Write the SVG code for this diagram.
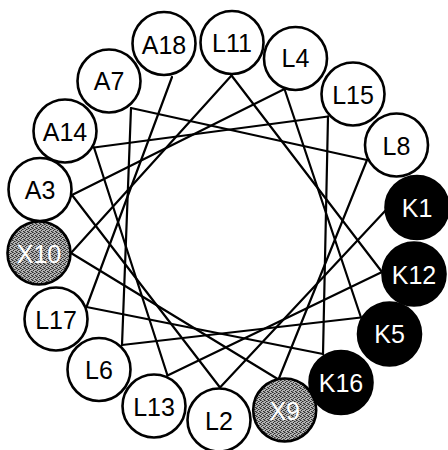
<svg xmlns="http://www.w3.org/2000/svg" width="448" height="450" viewBox="0 0 448 450">
  <style>
    .res circle { stroke: #000; stroke-width: 2.6; }
    .hp circle { fill: #fff; }
    .hp text { fill: #000; }
    .pos circle { fill: #000; }
    .pos text { fill: #fff; }
    .unk circle { fill: url(#stipple); }
    .unk text { fill: #fff; }
    .res text { font-family: "Liberation Sans", Arial, sans-serif; font-size: 25px; text-anchor: middle; dominant-baseline: central; }
    #connectors line { stroke: #000; stroke-width: 2.2; stroke-linecap: round; }
  </style>
  <defs>
    <!-- halftone grey for the unassigned residues -->
    <pattern id="stipple" width="4" height="4" patternUnits="userSpaceOnUse">
      <rect width="4" height="4" fill="#b4b4b4"/>
      <rect x="0" y="0" width="1" height="1" fill="#2e2e2e"/>
      <rect x="2" y="1" width="1" height="1" fill="#2e2e2e"/>
      <rect x="1" y="2" width="1" height="1" fill="#2e2e2e"/>
      <rect x="3" y="3" width="1" height="1" fill="#2e2e2e"/>
      <rect x="3" y="1" width="1" height="1" fill="#666"/>
      <rect x="1" y="0" width="1" height="1" fill="#666"/>
      <rect x="0" y="3" width="1" height="1" fill="#666"/>
    </pattern>
  </defs>

  <!-- backbone: residue i joined to residue i+1 at each circle's inner edge -->
  <g id="connectors">
    <line x1="385.5" y1="210.5" x2="220" y2="387.5"/>
    <line x1="220" y1="387.5" x2="72" y2="195"/>
    <line x1="72" y1="195" x2="284.5" y2="89"/>
    <line x1="284.5" y1="89" x2="361" y2="317.5"/>
    <line x1="361" y1="317.5" x2="122" y2="345"/>
    <line x1="122" y1="345" x2="131" y2="108"/>
    <line x1="131" y1="108" x2="367" y2="160"/>
    <line x1="367" y1="160" x2="278.5" y2="379.5"/>
    <line x1="278.5" y1="379.5" x2="71" y2="253"/>
    <line x1="71" y1="253" x2="231.5" y2="75.5"/>
    <line x1="231.5" y1="75.5" x2="382" y2="272"/>
    <line x1="382" y1="272" x2="167.5" y2="375.5"/>
    <line x1="167.5" y1="375.5" x2="94" y2="147.5"/>
    <line x1="94" y1="147.5" x2="328" y2="116.5"/>
    <line x1="328" y1="116.5" x2="323" y2="354"/>
    <line x1="323" y1="354" x2="86.5" y2="307"/>
    <line x1="86.5" y1="307" x2="172" y2="77"/>
  </g>

  <g id="K1" class="res pos"><circle cx="417" cy="207.5" r="31.5"/><text x="417" y="208">K1</text></g>
  <g id="L2" class="res hp"><circle cx="219" cy="420" r="31.5"/><text x="219" y="421">L2</text></g>
  <g id="A3" class="res hp"><circle cx="40" cy="189.5" r="31.5"/><text x="40" y="190">A3</text></g>
  <g id="L4" class="res hp"><circle cx="295.5" cy="58.5" r="31.5"/><text x="295.5" y="58">L4</text></g>
  <g id="K5" class="res pos"><circle cx="389.5" cy="334" r="31.5"/><text x="389.5" y="334">K5</text></g>
  <g id="L6" class="res hp"><circle cx="99" cy="369.5" r="31.5"/><text x="99" y="370">L6</text></g>
  <g id="A7" class="res hp"><circle cx="109" cy="81" r="31.5"/><text x="109" y="81">A7</text></g>
  <g id="L8" class="res hp"><circle cx="396.5" cy="145" r="31.5"/><text x="396.5" y="146">L8</text></g>
  <g id="X9" class="res unk"><circle cx="284.7" cy="410" r="31.5"/><text x="284.7" y="411">X9</text></g>
  <g id="X10" class="res unk"><circle cx="39" cy="253" r="31.5"/><text x="39" y="254">X10</text></g>
  <g id="L11" class="res hp"><circle cx="232" cy="42.5" r="31.5"/><text x="232" y="43">L11</text></g>
  <g id="K12" class="res pos"><circle cx="414" cy="274" r="31.5"/><text x="414" y="275">K12</text></g>
  <g id="L13" class="res hp"><circle cx="154" cy="406" r="31.5"/><text x="154" y="407">L13</text></g>
  <g id="A14" class="res hp"><circle cx="65" cy="131" r="31.5"/><text x="65" y="132">A14</text></g>
  <g id="L15" class="res hp"><circle cx="353" cy="94" r="31.5"/><text x="353" y="95">L15</text></g>
  <g id="K16" class="res pos"><circle cx="341" cy="382.5" r="31.5"/><text x="341" y="383">K16</text></g>
  <g id="L17" class="res hp"><circle cx="56" cy="319" r="31.5"/><text x="56" y="320">L17</text></g>
  <g id="A18" class="res hp"><circle cx="164" cy="43.5" r="31.5"/><text x="164" y="45">A18</text></g>
</svg>
